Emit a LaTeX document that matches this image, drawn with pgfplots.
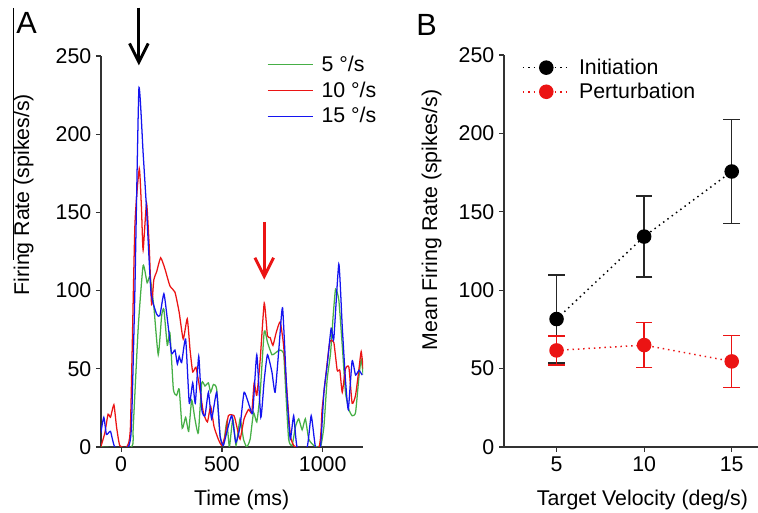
\documentclass[border=0pt]{standalone}
\usepackage{fontspec}
\setmainfont{Liberation Sans}
\usepackage{pgfplots}
\pgfplotsset{compat=1.18}
\usetikzlibrary{arrows.meta}

\definecolor{cgreen}{RGB}{70,175,70}
\definecolor{cred}{RGB}{235,20,20}
\definecolor{cblue}{RGB}{20,20,240}
\definecolor{axgray}{RGB}{50,50,50}

\newcommand{\fs}{\fontsize{16}{19}\selectfont}

\pgfplotsset{
  panel/.style={
    scale only axis,
    axis lines=left,
    axis line style={-, axgray, line width=0.9pt},
    tick align=outside,
    major tick length=3.75pt,
    tick style={axgray, line width=0.9pt},
    font=\fs,
    tick label style={font=\fs},
    label style={font=\fs},
    /pgf/number format/assume math mode=true,
    /pgf/number format/1000 sep={},
    ymin=0, ymax=250,
    ytick={0,50,100,150,200,250},
  }
}

\begin{document}
\begin{tikzpicture}
\useasboundingbox (0,0) rectangle (568.5pt,-384.75pt);

% stray frame line at the far left of the source figure
\draw[black, line width=0.7pt] (9.75pt,-6pt) -- (9.75pt,-195pt);

% --- panel A: firing rate traces ---
\begin{axis}[
    panel,
    at={(75.75pt,-335.25pt)}, anchor=south west,
    width=196.5pt, height=293.25pt,
    xmin=-100, xmax=1200,
    xtick={0,500,1000},
    xlabel={Time (ms)},
    ylabel={Firing Rate (spikes/s)},
    xlabel style={at={(axis description cs:0.537,-0.136)}, anchor=center},
    ylabel style={at={(axis description cs:-0.295,0.645)}, anchor=center},
    legend style={at={(axis description cs:0.617,1.016)}, anchor=north west,
        draw=none, fill=none, font=\fs, row sep=1.2pt,
        nodes={inner sep=2.5pt}},
    legend cell align=left,
    legend image code/.code={\draw[#1] (0pt,0pt) -- (33.75pt,0pt); \path (37.5pt,0pt);},
    every axis plot/.append style={line width=0.95pt, smooth, tension=0.3},
]
\addplot[cgreen] coordinates {
(-101,0) (51,0) (60,13) (85,77) (109,116) (129,105) (143,109) (162,90) (184,59)
(201,84) (212,88) (229,65) (242,73) (259,37) (275,33) (288,37) (303,12) (320,19)
(335,10) (350,30) (366,18) (383,9) (400,41) (416,39) (433,41) (444,35) (458,40)
(474,37) (491,7) (507,1) (524,16) (537,0) (554,18) (570,1) (590,18) (607,5)
(623,0) (640,5) (657,22) (673,16) (690,35) (710,74) (726,67) (748,59) (764,60)
(786,62) (806,60) (815,40) (831,5) (848,1) (865,13) (881,18) (898,11) (914,18)
(931,5) (956,1) (989,0) (1006,13) (1022,43) (1039,60) (1052,84) (1064,101)
(1080,94) (1097,65) (1113,35) (1130,24) (1146,20) (1163,22) (1180,45) (1191,56)
(1201,46)};
\addlegendentry{5 °/s}

\addplot[cred] coordinates {
(-101,0) (-81,9) (-65,21) (-53,19) (-36,27) (-23,13) (-7,1) (27,0) (46,13)
(68,141) (90,178) (101,152) (109,126) (126,156) (139,129) (151,91) (162,107)
(176,112) (196,121) (217,114) (242,103) (267,99) (288,86) (308,69) (328,82)
(342,62) (355,48) (371,51) (388,39) (408,22) (428,16) (444,26) (461,13) (482,5)
(499,1) (516,7) (532,20) (560,20) (574,13) (590,5) (610,18) (632,24) (648,22)
(660,41) (673,33) (690,56) (710,92) (726,71) (739,70) (753,65) (769,73) (789,80)
(806,65) (823,35) (840,7) (865,0) (981,0) (997,24) (1014,44) (1035,67) (1055,67)
(1072,49) (1085,49) (1097,35) (1113,50) (1130,51) (1146,28) (1163,33) (1180,50)
(1191,61) (1201,50)};
\addlegendentry{10 °/s}

\addplot[cblue] coordinates {
(-101,9) (-86,19) (-73,8) (-53,10) (-31,0) (35,0) (51,13) (68,99) (88,229)
(109,188) (126,152) (148,99) (176,85) (192,84) (212,98) (229,82) (250,60)
(267,62) (279,53) (288,58) (300,54) (320,69) (338,28) (355,41) (368,28) (385,58)
(400,24) (416,20) (433,35) (449,18) (474,35) (491,7) (507,1) (527,11) (549,20)
(569,3) (590,13) (610,35) (637,26) (653,22) (673,59) (693,19) (710,43) (726,59)
(748,48) (764,35) (784,65) (801,89) (822,35) (839,5) (856,20) (873,0) (923,0)
(943,20) (964,0) (989,0) (1006,35) (1022,52) (1042,76) (1055,69) (1080,117)
(1097,77) (1113,43) (1127,24) (1146,55) (1163,46) (1180,49) (1196,46)};
\addlegendentry{15 °/s}

\coordinate (ka) at (axis cs:88,281);
\coordinate (kb) at (axis cs:88,244);
\coordinate (ra) at (axis cs:710,144);
\coordinate (rb) at (axis cs:710,107);
\end{axis}

\draw[black, line width=2.2pt, -{Straight Barb[length=14pt,width=14pt,line width=2.2pt]}] (ka) -- (kb);
\draw[cred, line width=2.2pt, -{Straight Barb[length=14pt,width=14pt,line width=2.2pt]}] (ra) -- (rb);

\node[font=\fontsize{23}{27}\selectfont, anchor=north west, inner sep=0pt] at (12pt,-9pt) {A};
\node[font=\fontsize{23}{27}\selectfont, anchor=north west, inner sep=0pt] at (312pt,-10.5pt) {B};

% --- panel B: mean firing rate ---
\begin{axis}[
    panel,
    at={(378pt,-335.25pt)}, anchor=south west,
    width=190.5pt, height=294pt,
    xmin=2, xmax=16.5,
    xtick={5,10,15},
    xlabel={Target Velocity (deg/s)},
    ylabel={Mean Firing Rate (spikes/s)},
    xlabel style={at={(axis description cs:0.545,-0.135)}, anchor=center},
    ylabel style={at={(axis description cs:-0.285,0.579)}, anchor=center},
    legend style={at={(axis description cs:0.055,1.006)}, anchor=north west,
        draw=none, fill=none, font=\fs, row sep=0pt,
        nodes={inner sep=2.5pt}},
    legend cell align=left,
    legend image code/.code={\draw[mark repeat=2,mark phase=2,#1] plot coordinates {(0pt,0pt) (17.5pt,0pt) (35pt,0pt)}; \path (39pt,0pt);},
]
\addplot[black, line width=1.1pt, dash pattern=on 1.1pt off 2.9pt,
    mark=*, mark size=4.9pt, mark options={solid},
    error bars/.cd, y dir=both, y explicit,
    error bar style={solid, line width=1pt, black!85},
    error mark options={solid, rotate=90, line width=1pt, mark size=6.25pt, black!85}]
  coordinates {(5,81.6) +- (0,28) (10,134.2) +- (0,25.8) (15,175.7) +- (0,33.2)};
\addlegendentry{Initiation}

\addplot[cred, line width=1.1pt, dash pattern=on 1.1pt off 2.9pt,
    mark=*, mark size=4.9pt, mark options={solid},
    error bars/.cd, y dir=both, y explicit,
    error bar style={solid, line width=1pt, cred},
    error mark options={solid, rotate=90, line width=1pt, mark size=6.25pt, cred}]
  coordinates {(5,61.6) +- (0,9.2) (10,65) +- (0,14.5) (15,54.6) +- (0,16.6)};
\addlegendentry{Perturbation}
\end{axis}
\end{tikzpicture}
\end{document}
